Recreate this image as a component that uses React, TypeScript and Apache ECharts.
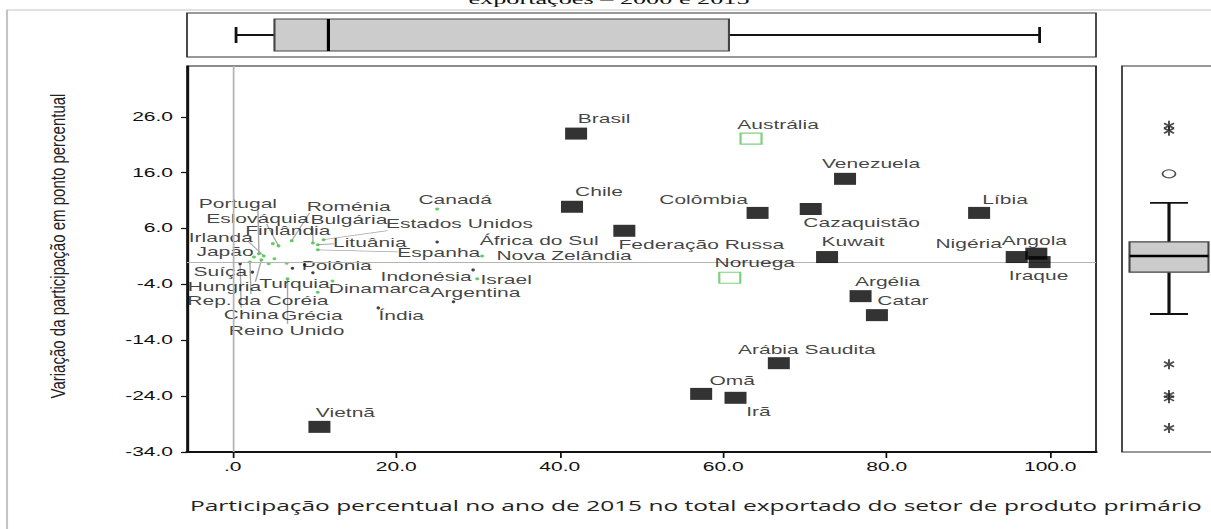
import React, { useEffect, useRef } from "react";
import * as echarts from "echarts";

// The figure is laid out in a narrow frame and stretched horizontally,
// so every horizontal measure below is written in final (stretched) pixels.
const STRETCH = 1.75;
const PAGE_W = 1211;
const PAGE_H = 529;
const bx = (px: number) => px / STRETCH;

// ---- Large primary-product exporters (filled squares) ----
const squareCountries = [
  "Brasil", "Venezuela", "Chile", "Colômbia", "Cazaquistão", "Líbia",
  "Federação Russa", "Kuwait", "Nigéria", "Angola", "Iraque", "Argélia",
  "Catar", "Arábia Saudita", "Omã", "Irã", "Vietnã",
];
const squareShare = [42.0, 74.9, 41.5, 64.2, 70.7, 91.3, 47.9, 72.7, 95.9, 98.3, 98.7, 76.8, 78.8, 66.8, 57.3, 61.5, 10.6];
const squareChange = [23.0, 14.9, 9.9, 8.8, 9.5, 8.8, 5.6, 0.9, 0.9, 1.5, 0.0, -6.1, -9.5, -18.1, -23.6, -24.3, -29.5];

// ---- Hollow squares ----
const hollowCountries = ["Austrália", "Noruega"];
const hollowShare = [63.4, 60.8];
const hollowChange = [22.1, -2.8];

// ---- Small green points ----
const greenCountries = [
  "Portugal", "Eslováquia", "Finlândia", "Irlanda", "Japão", "Hungria",
  "Rep. da Coréia", "Grécia", "Reino Unido", "Dinamarca", "Roménia",
  "Bulgária", "Estados Unidos", "Lituânia", "Espanha", "Canadá",
  "Nova Zelândia", "Israel",
];
const greenShare = [3.2, 5.6, 4.9, 3.8, 2.6, 3.5, 2.1, 10.4, 6.7, 12.2, 7.2, 9.8, 11.1, 10.4, 10.4, 25.0, 30.5, 29.9];
const greenChange = [1.5, 2.9, 3.3, 1.1, 0.9, 0.4, 0.0, -5.4, -3.0, -3.4, 3.8, 3.4, 4.0, 3.1, 2.2, 9.5, 1.1, -3.0];

// ---- Small black points ----
const blackCountries = ["Suíça", "China", "Turquia", "Polônia", "África do Sul", "Indonésia", "Argentina", "Índia"];
const blackShare = [2.4, 0.9, 7.3, 8.8, 25.0, 29.4, 27.0, 17.8];
const blackChange = [-1.8, -0.3, -1.1, -0.5, 3.6, -1.4, -7.1, -8.2];

// ---- Points drawn without a label ----
const unlabeledGreenShare = [4.4, 5.1, 6.6];
const unlabeledGreenChange = [-0.3, 0.6, -0.2];
const unlabeledBlackShare = [9.8];
const unlabeledBlackChange = [-1.9];

// ---- Marginal box plots: [min, Q1, median, Q3, max] ----
const shareBox = [0.4, 5.1, 11.7, 60.7, 98.7];
const changeBox = [-9.3, -1.8, 1.1, 3.6, 10.6];
const changeOutliers = [15.8];
const changeExtremes = [24.4, 23.5, -18.3, -23.8, -24.4, -29.7];

// ---- Axis ticks ----
const xTicks = [0, 20, 40, 60, 80, 100];
const yTicks = [-34, -24, -14, -4, 6, 16, 26];

const xTitle = "Participação percentual no ano de 2015 no total exportado do setor de produto primário";
const yTitle = "Variação da participação em ponto percentual";
const topTitle = "exportações – 2000 e 2015";

// Label placement relative to each point, [dx, dy] in final pixels.
const labelOffsets: Record<string, [number, number]> = {
  "Brasil": [28, -14], "Venezuela": [26, -15], "Chile": [27, -15], "Colômbia": [-54, -13],
  "Cazaquistão": [51, 14], "Líbia": [26, -13], "Federação Russa": [77, 14], "Kuwait": [26, -15],
  "Nigéria": [-48, -13], "Angola": [-2, -13], "Iraque": [-1, 14], "Argélia": [27, -14],
  "Catar": [26, -14], "Arábia Saudita": [28, -13], "Omã": [31, -13], "Irã": [23, 14],
  "Vietnã": [26, -14], "Austrália": [27, -13], "Noruega": [25, -15],
  "Portugal": [-21, -50], "Eslováquia": [-21, -27], "Finlândia": [15, -12], "Irlanda": [-43, -18],
  "Japão": [-29, -5], "Suíça": [-32, 0], "Hungria": [-37, 27], "Rep. da Coréia": [8, 39],
  "China": [11, 51], "Grécia": [-6, 24], "Reino Unido": [-1, 52], "Turquia": [2, 16],
  "Polônia": [32, 1], "Dinamarca": [47, 8], "Roménia": [57, -34], "Bulgária": [36, -23],
  "Estados Unidos": [136, -16], "Lituânia": [52, -2], "Espanha": [121, 3], "Canadá": [18, -9],
  "África do Sul": [102, -1], "Nova Zelândia": [82, 0], "Indonésia": [-47, 7], "Israel": [29, 1],
  "Argentina": [22, -9], "Índia": [23, 8],
};

// Leader lines from a point towards its displaced label, [dx, dy] in final pixels.
const leaderEnds: Record<string, [number, number]> = {
  "Portugal": [-1, -43], "Eslováquia": [-12, -22], "Irlanda": [-16, -15], "Hungria": [-6, 22],
  "Rep. da Coréia": [1, 32], "China": [1, 44], "Reino Unido": [0, 45], "Roménia": [18, -28],
  "Bulgária": [0, -15], "Estados Unidos": [64, -9], "Lituânia": [16, -1], "Espanha": [80, 2],
};

const FONT = "'Liberation Sans', Arial, sans-serif";
const AXIS_MIN_X = -5.6;
const AXIS_MAX_X = 105.6;
const AXIS_MIN_Y = -34;
const AXIS_MAX_Y = 35.1;

function pointItems(names: string[], xs: number[], ys: number[]) {
  return names.map((name, i) => {
    const off = labelOffsets[name] || [0, -12];
    return { name, value: [xs[i], ys[i]], label: { offset: [bx(off[0]), off[1]] } };
  });
}

function leaderData() {
  const names = [...greenCountries, ...blackCountries];
  const xs = [...greenShare, ...blackShare];
  const ys = [...greenChange, ...blackChange];
  const rows: number[][] = [];
  names.forEach((n, i) => {
    const end = leaderEnds[n];
    if (end) rows.push([xs[i], ys[i], bx(end[0]), end[1]]);
  });
  return rows;
}

// Asterisk marker made of bars crossing at the centre.
function asteriskSymbol(angles: number[], len = 5, half = 0.85): string {
  const parts = angles.map((deg) => {
    const a = (deg * Math.PI) / 180;
    const dx = Math.cos(a), dy = Math.sin(a);
    const nx = -dy, ny = dx;
    const c = (s: number, t: number) =>
      `${(s * len * dx + t * half * nx).toFixed(3)},${(s * len * dy + t * half * ny).toFixed(3)}`;
    return `M${c(-1, -1)}L${c(1, -1)}L${c(1, 1)}L${c(-1, 1)}Z`;
  });
  return "path://" + parts.join("");
}

const labelStyle = {
  show: true,
  position: "inside",
  formatter: "{b}",
  color: "#111",
  fontSize: 12,
  fontFamily: FONT,
};

const BOX_FILL = "#cccccc";
const BOX_EDGE = "#444444";

function renderHorizontalBox(_params: any, api: any) {
  const at = (v: number) => api.coord([v, 0]);
  const cy = at(api.value(1))[1];
  const xMin = at(api.value(1))[0];
  const xQ1 = at(api.value(2))[0];
  const xMed = at(api.value(3))[0];
  const xQ3 = at(api.value(4))[0];
  const xMax = at(api.value(5))[0];
  const half = 16;
  const cap = 8;
  const whisker = { stroke: "#111", lineWidth: 2 };
  const capStyle = { stroke: "#111", lineWidth: 1.6 };
  return {
    type: "group",
    children: [
      { type: "line", shape: { x1: xMin, y1: cy, x2: xQ1, y2: cy }, style: whisker },
      { type: "line", shape: { x1: xQ3, y1: cy, x2: xMax, y2: cy }, style: whisker },
      { type: "line", shape: { x1: xMin, y1: cy - cap, x2: xMin, y2: cy + cap }, style: capStyle },
      { type: "line", shape: { x1: xMax, y1: cy - cap, x2: xMax, y2: cy + cap }, style: capStyle },
      {
        type: "rect",
        shape: { x: xQ1, y: cy - half, width: xQ3 - xQ1, height: half * 2 },
        style: { fill: BOX_FILL, stroke: BOX_EDGE, lineWidth: 1.2 },
      },
      { type: "line", shape: { x1: xMed, y1: cy - half, x2: xMed, y2: cy + half }, style: { stroke: "#000", lineWidth: 1.8 } },
    ],
  };
}

function renderVerticalBox(_params: any, api: any) {
  const at = (v: number) => api.coord([0, v]);
  const cx = at(api.value(1))[0];
  const yMin = at(api.value(1))[1];
  const yQ1 = at(api.value(2))[1];
  const yMed = at(api.value(3))[1];
  const yQ3 = at(api.value(4))[1];
  const yMax = at(api.value(5))[1];
  const half = bx(39.5);
  const cap = bx(19);
  const whisker = { stroke: "#111", lineWidth: 1.8 };
  return {
    type: "group",
    children: [
      { type: "line", shape: { x1: cx, y1: yMin, x2: cx, y2: yQ1 }, style: whisker },
      { type: "line", shape: { x1: cx, y1: yQ3, x2: cx, y2: yMax }, style: whisker },
      { type: "line", shape: { x1: cx - cap, y1: yMin, x2: cx + cap, y2: yMin }, style: whisker },
      { type: "line", shape: { x1: cx - cap, y1: yMax, x2: cx + cap, y2: yMax }, style: whisker },
      {
        type: "rect",
        shape: { x: cx - half, y: yQ3, width: half * 2, height: yQ1 - yQ3 },
        style: { fill: BOX_FILL, stroke: BOX_EDGE, lineWidth: 1.2 },
      },
      { type: "line", shape: { x1: cx - half, y1: yMed, x2: cx + half, y2: yMed }, style: { stroke: "#000", lineWidth: 2.5 } },
    ],
  };
}

function renderLeader(_params: any, api: any) {
  const p = api.coord([api.value(0), api.value(1)]);
  return {
    type: "line",
    shape: { x1: p[0], y1: p[1], x2: p[0] + api.value(2), y2: p[1] + api.value(3) },
    style: { stroke: "#a8a8a8", lineWidth: 0.8 },
  };
}

function buildOption() {
  return {
    animation: false,
    backgroundColor: "#ffffff",
    grid: [
      { left: bx(187), top: 66, width: bx(909), height: 386, show: true, borderColor: "#1a1a1a", borderWidth: 1, outerBoundsMode: "none" },
      { left: bx(187), top: 13, width: bx(909), height: 44, show: true, borderColor: "#333", borderWidth: 1, outerBoundsMode: "none" },
      { left: bx(1122), top: 66, width: bx(94), height: 386, show: true, borderColor: "#333", borderWidth: 1, outerBoundsMode: "none" },
    ],
    xAxis: [
      {
        type: "value", gridIndex: 0, min: AXIS_MIN_X, max: AXIS_MAX_X,
        axisLine: { show: true, onZero: false, lineStyle: { color: "#111", width: 2 } },
        axisTick: { show: true, customValues: xTicks, length: 6, lineStyle: { color: "#111", width: 1 } },
        axisLabel: {
          customValues: xTicks, margin: 9, fontSize: 12, color: "#111", fontFamily: FONT,
          formatter: (v: number) => (v === 0 ? ".0" : v.toFixed(1)),
        },
        splitLine: { show: false },
      },
      { type: "value", gridIndex: 1, min: AXIS_MIN_X, max: AXIS_MAX_X, show: false },
      { type: "category", gridIndex: 2, data: ["change"], show: false },
    ],
    yAxis: [
      {
        type: "value", gridIndex: 0, min: AXIS_MIN_Y, max: AXIS_MAX_Y,
        axisLine: { show: true, onZero: false, lineStyle: { color: "#111", width: 1.2 } },
        axisTick: { show: true, customValues: yTicks, length: bx(6), lineStyle: { color: "#111", width: 1.2 } },
        axisLabel: {
          customValues: yTicks, margin: bx(14), fontSize: 12, color: "#111", fontFamily: FONT,
          formatter: (v: number) => v.toFixed(1),
        },
        splitLine: { show: false },
      },
      { type: "category", gridIndex: 1, data: ["share"], show: false },
      { type: "value", gridIndex: 2, min: AXIS_MIN_Y, max: AXIS_MAX_Y, show: false },
    ],
    series: [
      {
        name: "reference",
        type: "scatter", xAxisIndex: 0, yAxisIndex: 0, data: [], silent: true, z: 1,
        markLine: {
          silent: true, symbol: ["none", "none"], label: { show: false },
          lineStyle: { color: "#b4b4b4", width: 1, type: "solid" },
          data: [{ xAxis: 0 }, { yAxis: 0 }],
        },
      },
      {
        name: "leaders",
        type: "custom", xAxisIndex: 0, yAxisIndex: 0, silent: true, z: 2,
        renderItem: renderLeader, data: leaderData(),
      },
      {
        name: "unlabeled-green",
        type: "scatter", xAxisIndex: 0, yAxisIndex: 0, silent: true, z: 3,
        symbol: "circle", symbolSize: [bx(4), 3], itemStyle: { color: "#3cc23c" },
        data: unlabeledGreenShare.map((x, i) => [x, unlabeledGreenChange[i]]),
      },
      {
        name: "unlabeled-black",
        type: "scatter", xAxisIndex: 0, yAxisIndex: 0, silent: true, z: 3,
        symbol: "circle", symbolSize: [bx(3.5), 3], itemStyle: { color: "#111" },
        data: unlabeledBlackShare.map((x, i) => [x, unlabeledBlackChange[i]]),
      },
      {
        name: "green",
        type: "scatter", xAxisIndex: 0, yAxisIndex: 0, silent: true, z: 4,
        symbol: "circle", symbolSize: [bx(4), 3], itemStyle: { color: "#3cc23c" },
        label: labelStyle,
        data: pointItems(greenCountries, greenShare, greenChange),
      },
      {
        name: "black",
        type: "scatter", xAxisIndex: 0, yAxisIndex: 0, silent: true, z: 4,
        symbol: "circle", symbolSize: [bx(3.5), 3], itemStyle: { color: "#111" },
        label: labelStyle,
        data: pointItems(blackCountries, blackShare, blackChange),
      },
      {
        name: "squares",
        type: "scatter", xAxisIndex: 0, yAxisIndex: 0, silent: true, z: 5,
        symbol: "rect", symbolSize: [bx(22), 12], itemStyle: { color: "#000" },
        label: labelStyle,
        data: pointItems(squareCountries, squareShare, squareChange),
      },
      {
        name: "hollow",
        type: "scatter", xAxisIndex: 0, yAxisIndex: 0, silent: true, z: 5,
        symbol: "rect", symbolSize: [bx(21), 11],
        itemStyle: { color: "rgba(0,0,0,0)", borderColor: "#5cc65c", borderWidth: 1.2 },
        label: labelStyle,
        data: pointItems(hollowCountries, hollowShare, hollowChange),
      },
      {
        name: "share-box",
        type: "custom", xAxisIndex: 1, yAxisIndex: 1, silent: true,
        encode: { y: 0, x: [1, 2, 3, 4, 5] },
        renderItem: renderHorizontalBox,
        data: [[0, ...shareBox]],
      },
      {
        name: "change-box",
        type: "custom", xAxisIndex: 2, yAxisIndex: 2, silent: true,
        encode: { x: 0, y: [1, 2, 3, 4, 5] },
        renderItem: renderVerticalBox,
        data: [[0, ...changeBox]],
      },
      {
        name: "change-extremes",
        type: "scatter", xAxisIndex: 2, yAxisIndex: 2, silent: true, z: 5,
        symbol: asteriskSymbol([90, 30, 150]), symbolSize: [bx(11), 10],
        itemStyle: { color: "#222" },
        data: changeExtremes.map((v) => [0, v]),
      },
      {
        name: "change-outliers",
        type: "scatter", xAxisIndex: 2, yAxisIndex: 2, silent: true, z: 5,
        symbol: "circle", symbolSize: [bx(13), 8],
        itemStyle: { color: "#fff", borderColor: "#222", borderWidth: 1 },
        data: changeOutliers.map((v) => [0, v]),
      },
    ],
    graphic: [
      {
        type: "rect", silent: true, z: 0,
        shape: { x: bx(7), y: 10, width: 1000, height: 700 },
        style: { fill: "none", stroke: "#c4c4c4", lineWidth: 1.2 },
      },
      {
        type: "text", silent: true, x: bx(609), y: -1,
        style: {
          text: topTitle, fill: "#111", align: "center", verticalAlign: "middle",
          font: "15px 'Liberation Serif', 'Times New Roman', serif",
        },
      },
      {
        type: "text", silent: true, x: bx(58), y: 246, rotation: Math.PI / 2, scaleY: 0.75,
        style: {
          text: yTitle, fill: "#222", align: "center", verticalAlign: "middle",
          font: "15px 'Liberation Sans', Arial, sans-serif",
        },
      },
      {
        type: "text", silent: true, x: bx(190), y: 506,
        style: {
          text: xTitle, fill: "#222", align: "left", verticalAlign: "middle",
          font: "14px 'Open Sans', sans-serif",
        },
      },
    ],
  };
}

export default function App() {
  const ref = useRef<HTMLDivElement>(null);
  useEffect(() => {
    if (!ref.current) return;
    const chart = echarts.init(ref.current, null, { renderer: "svg" });
    chart.setOption(buildOption() as any);
    return () => chart.dispose();
  }, []);
  return (
    <div
      ref={ref}
      style={{
        position: "absolute",
        left: 0,
        top: 0,
        width: PAGE_W / STRETCH,
        height: PAGE_H,
        transform: `scaleX(${STRETCH})`,
        transformOrigin: "0 0",
        background: "#fff",
      }}
    />
  );
}
